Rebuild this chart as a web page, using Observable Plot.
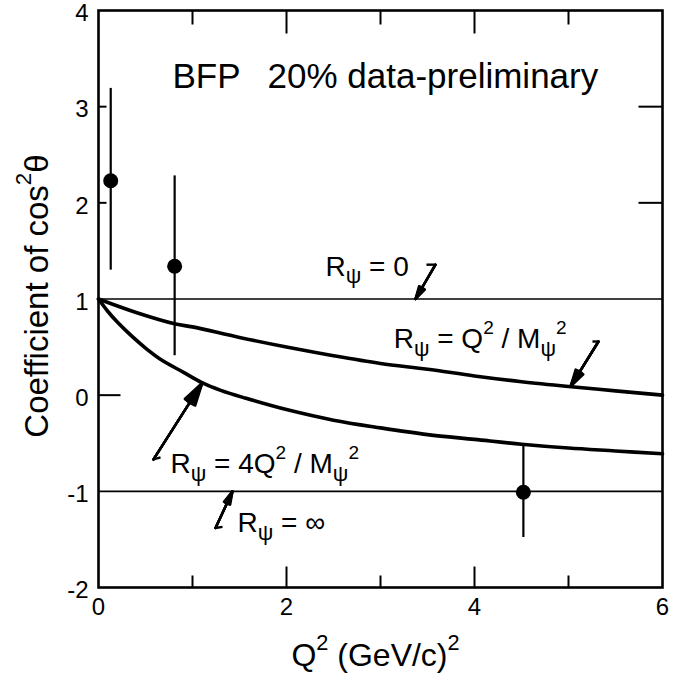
<!DOCTYPE html>
<html><head><meta charset="utf-8">
<script src="https://cdn.jsdelivr.net/npm/d3@7"></script>
<script src="https://cdn.jsdelivr.net/npm/@observablehq/plot@0.6"></script>
<style>body{margin:0;background:#fff}</style>
</head><body><div id="chart"></div>
<script>
// ---- data ----
// theory curve R_psi = Q^2/M_psi^2
const upperQ2 = [0, 0.4, 0.82, 1.0, 1.5, 2.0, 2.5, 3.0, 3.5, 4.0, 4.5, 5.0, 5.5, 6.0];
const upperC  = [1.0, 0.86, 0.74, 0.71, 0.60, 0.50, 0.41, 0.33, 0.27, 0.20, 0.14, 0.09, 0.045, 0.0];
// theory curve R_psi = 4Q^2/M_psi^2
const lowerQ2 = [0, 0.1, 0.2, 0.32, 0.5, 0.68, 0.9, 1.1, 1.3, 1.56, 2.0, 2.5, 3.0, 3.5, 4.0, 4.5, 5.0, 5.5, 6.0];
const lowerC  = [1.0, 0.87, 0.76, 0.645, 0.49, 0.36, 0.24, 0.13, 0.05, -0.03, -0.15, -0.26, -0.34, -0.41, -0.46, -0.51, -0.55, -0.58, -0.61];
// limits R_psi = 0 and R_psi = infinity
const limitValues = [1, -1];
// data points
const ptQ2  = [0.13, 0.81, 4.52];
const ptC   = [2.23, 1.34, -1.01];
const ptLo  = [1.30, 0.41, -1.48];
const ptHi  = [3.19, 2.28, -0.51];
// tick values
const xTickLabels = [0, 2, 4, 6];
const yTickLabels = [-2, -1, 0, 1, 2, 3, 4];
const xMajor = [2, 4];
const xMinor = [1, 3, 5];
const yLeftShort = [2, 3];
const yLeftLong = [0];
const yRight = [2, 3];
// annotations (data coordinates)
const labelText = ["R_ψ = 0", "R_ψ = Q^2 / M_ψ^2", "R_ψ = 4Q^2 / M_ψ^2", "R_ψ = ∞"];
const labelX = [2.415, 3.14, 0.766, 1.479];
const labelY = [1.244, 0.486, -0.814, -1.428];
const arrX1 = [3.585, 5.319, 0.585, 1.245];
const arrY1 = [1.357, 0.558, -0.668, -1.381];
const arrX2 = [3.372, 5.021, 1.106, 1.426];
const arrY2 = [1.0, 0.09, 0.13, -1.0];
const hookX = [3.489, 5.255, 0.66, 1.319];
const hookY = [1.357, 0.558, -0.647, -1.37];
const titleParts = ["BFP", "20% data-preliminary"];
const titleX = [0.787, 1.798];
const titleY = [3.189, 3.189];
const xLabel = "Q^2 (GeV/c)^2";
const yLabel = "Coefficient of cos^2θ";

// ---- chart ----
const FONT = "'Liberation Sans', Arial, sans-serif";
const W = 686, H = 674, ML = 98, MR = 24, MT = 10, MB = 87;
const FW = W - ML - MR, FH = H - MT - MB;
const XMIN = 0, XMAX = 6, YMIN = -2, YMAX = 4;
const pxX = p => p * (XMAX - XMIN) / FW;   // pixel length -> x units
const pxY = p => p * (YMAX - YMIN) / FH;   // pixel length -> y units
const upper = upperQ2.map((q, i) => ({q, c: upperC[i]}));
const lower = lowerQ2.map((q, i) => ({q, c: lowerC[i]}));
const idx4 = d3.range(4);
const fmt = d => String(d);
const arrowStyle = a => Plot.arrow(idx4, {x1: i => arrX1[i], y1: i => arrY1[i], x2: i => arrX2[i], y2: i => arrY2[i],
  strokeWidth: 2.4, headLength: 15, headAngle: a});
// vertical tick links (x ticks) and horizontal tick links (y ticks)
const vTicks = (vals, yA, yB) => Plot.link(vals, {x1: d => d, x2: d => d, y1: () => yA, y2: () => yB, strokeWidth: 2});
const hTicks = (vals, xA, xB) => Plot.link(vals, {y1: d => d, y2: d => d, x1: () => xA, x2: () => xB, strokeWidth: 2});

const chart = Plot.plot({
  width: W, height: H,
  marginLeft: ML, marginRight: MR, marginTop: MT, marginBottom: MB,
  style: {fontFamily: FONT, background: "white", color: "black", overflow: "visible"},
  x: {domain: [XMIN, XMAX]},
  y: {domain: [YMIN, YMAX]},
  marks: [
    Plot.axisX({ticks: xTickLabels, tickSize: 0, tickPadding: 10, fontSize: 24, label: null, tickFormat: fmt}),
    Plot.axisY({ticks: yTickLabels, tickSize: 0, tickPadding: 10, fontSize: 24, label: null, tickFormat: fmt, dy: 3}),
    // inward tick marks
    vTicks(xMajor, YMIN, YMIN + pxY(21)),
    vTicks(xMinor, YMIN, YMIN + pxY(12)),
    vTicks(xMajor, YMAX, YMAX - pxY(23)),
    vTicks(xMinor, YMAX, YMAX - pxY(14)),
    hTicks(yLeftShort, XMIN, XMIN + pxX(8)),
    hTicks(yLeftLong, XMIN, XMIN + pxX(22)),
    hTicks(yRight, XMAX, XMAX - pxX(24)),
    // limit lines
    Plot.ruleY(limitValues, {y: d => d, strokeWidth: 1.6}),
    // theory curves
    Plot.line(upper, {x: "q", y: "c", curve: "catmull-rom", strokeWidth: 3.6}),
    Plot.line(lower, {x: "q", y: "c", curve: "catmull-rom", strokeWidth: 3.6}),
    // data points with error bars
    Plot.ruleX(ptQ2.map((q, i) => i), {x: i => ptQ2[i], y1: i => ptLo[i], y2: i => ptHi[i], strokeWidth: 2.2}),
    Plot.dot(ptQ2.map((q, i) => i), {x: i => ptQ2[i], y: i => ptC[i], r: 7.5, fill: "black", stroke: "none"}),
    // annotation arrows (overlaid heads give a filled look)
    arrowStyle(8), arrowStyle(16), arrowStyle(24), arrowStyle(30),
    Plot.link(idx4, {x1: i => arrX1[i], y1: i => arrY1[i], x2: i => hookX[i], y2: i => hookY[i], strokeWidth: 2.4}),
    // annotation labels
    Plot.text(idx4, {x: i => labelX[i], y: i => labelY[i], text: i => labelText[i],
      textAnchor: "start", lineAnchor: "bottom", fontSize: 28}),
    Plot.text([0, 1], {x: i => titleX[i], y: i => titleY[i], text: i => titleParts[i],
      textAnchor: "start", lineAnchor: "bottom", fontSize: 35}),
    // axis titles
    Plot.text([xLabel], {frameAnchor: "bottom", text: d => d, dy: 78, dx: -5, textAnchor: "middle", lineAnchor: "bottom", fontSize: 32}),
    Plot.text([yLabel], {frameAnchor: "left", text: d => d, rotate: -90, dx: -51, dy: -3, textAnchor: "middle", lineAnchor: "bottom", fontSize: 33}),
    Plot.frame({strokeWidth: 2.6})
  ]
});
document.getElementById("chart").appendChild(chart);

// rich text: _x = subscript, ^x = superscript
const SVGNS = "http://www.w3.org/2000/svg";
chart.querySelectorAll("text").forEach(t => {
  const s = t.textContent;
  if (!/[_^]/.test(s)) return;
  const fs = parseFloat(getComputedStyle(t).fontSize) || 28;
  const segs = [];
  for (let i = 0; i < s.length; i++) {
    const ch = s[i];
    if ((ch === "_" || ch === "^") && i + 1 < s.length) {
      segs.push({txt: s[i + 1], kind: ch});
      i++;
    } else {
      if (segs.length && segs[segs.length - 1].kind === "n") segs[segs.length - 1].txt += ch;
      else segs.push({txt: ch, kind: "n"});
    }
  }
  t.textContent = "";
  let off = 0;
  for (const sg of segs) {
    const ts = document.createElementNS(SVGNS, "tspan");
    let target = 0, size = fs;
    if (sg.kind === "_") { target = 0.28 * fs; size = 0.78 * fs; }
    else if (sg.kind === "^") { target = -0.5 * fs; size = 0.68 * fs; }
    ts.setAttribute("dy", (target - off).toFixed(2));
    ts.setAttribute("font-size", size.toFixed(2));
    ts.textContent = sg.txt;
    off = target;
    t.appendChild(ts);
  }
});
</script>
</body></html>
